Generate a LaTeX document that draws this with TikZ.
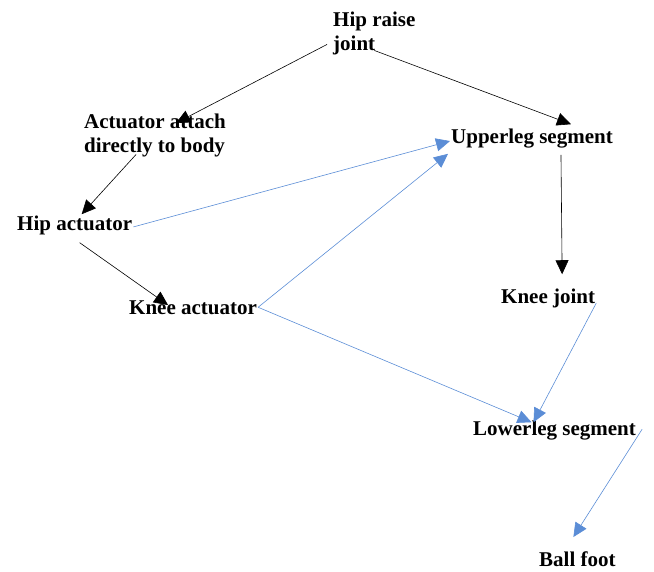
\documentclass[tikz,border=0pt]{standalone}
\usepackage{fontspec}
\setmainfont{Liberation Serif}
\usetikzlibrary{arrows.meta}
\definecolor{linkblue}{RGB}{91,141,214}
\begin{document}
\begin{tikzpicture}[x=1pt,y=-1pt,
  lbl/.style={font=\bfseries\fontsize{21}{24}\selectfont,inner sep=1pt,align=left},
  blk/.style={-{Triangle[length=14pt,width=13pt]},line width=0.6pt},
  blu/.style={-{Triangle[length=14pt,width=13pt]},line width=0.6pt,color=linkblue}]
\useasboundingbox (0,0) rectangle (654,571);

% parts
\node[lbl,anchor=north west] (hipraise) at (332,11) {Hip raise\\joint};
\node[lbl,anchor=north west] (attach) at (83,113) {Actuator attach\\directly to body};
\node[lbl,anchor=base west] (hipact) at (16,230) {Hip actuator};
\node[lbl,anchor=base west] (kneeact) at (128,314) {Knee actuator};
\node[lbl,anchor=base west] (upper) at (450,143) {Upperleg segment};
\node[lbl,anchor=base west] (kneejoint) at (500,303) {Knee joint};
\node[lbl,anchor=base west] (lower) at (472,435) {Lowerleg segment};
\node[lbl,anchor=base west] (ball) at (538,566) {Ball foot};

% black links
\draw[blk] ([xshift=-5pt,yshift=12pt]hipraise.south west) -- ([xshift=21pt,yshift=-10pt]attach.north);
\draw[blk] ([yshift=6pt]hipraise.south) -- ([xshift=39pt,yshift=3pt]upper.north);
\draw[blk] ([xshift=-19pt,yshift=4pt]attach.south) -- ([xshift=7pt,yshift=0pt]hipact.north);
\draw[blk] ([xshift=29pt,yshift=-6pt]upper.south) -- ([xshift=14pt,yshift=13pt]kneejoint.north);
\draw[blk] ([xshift=5pt,yshift=-7pt]hipact.south) -- ([xshift=-25pt,yshift=-6pt]kneeact.north);

% blue links
\draw[blu] ([yshift=-2pt]hipact.east) -- ([yshift=-3pt]upper.west);
\draw[blu] (kneeact.east) -- ([xshift=-2pt,yshift=-5pt]upper.south west);
\draw[blu] (kneeact.east) -- ([xshift=-23pt,yshift=-3pt]lower.north);
\draw[blu] ([yshift=-5pt]kneejoint.east) -- ([xshift=-21pt,yshift=-3pt]lower.north);
\draw[blu] ([xshift=5pt,yshift=-10pt]lower.north east) -- ([xshift=-4pt,yshift=13pt]ball.north);
\end{tikzpicture}
\end{document}
